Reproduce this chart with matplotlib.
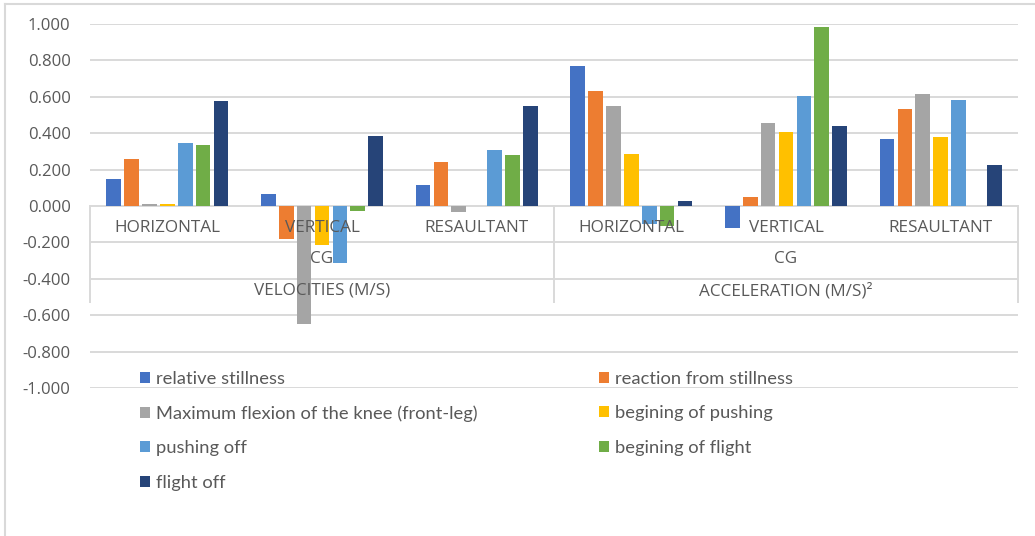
import numpy as np
import matplotlib.pyplot as plt
from matplotlib.lines import Line2D
from matplotlib.ticker import FormatStrFormatter

# category axis (three levels)
components = ['HORIZONTAL', 'VERTICAL', 'RESAULTANT', 'HORIZONTAL', 'VERTICAL', 'RESAULTANT']
body_point = 'CG'
groups = ['VELOCITIES (M/S)', 'ACCELERATION (M/S)²']

# phases of the movement
phases = ['relative stillness', 'reaction from stillness',
          'Maximum flexion of the knee (front-leg)', 'begining of pushing',
          'pushing off', 'begining of flight', 'flight off']

relative_stillness = [0.148, 0.068, 0.115, 0.767, -0.119, 0.366]
reaction_from_stillness = [0.260, -0.181, 0.242, 0.634, 0.051, 0.533]
max_knee_flexion = [0.011, -0.648, -0.035, 0.549, 0.458, 0.617]
begining_of_pushing = [0.011, -0.214, 0.0, 0.284, 0.405, 0.381]
pushing_off = [0.346, -0.311, 0.308, -0.099, 0.603, 0.584]
begining_of_flight = [0.333, -0.029, 0.280, -0.108, 0.985, 0.0]
flight_off = [0.577, 0.386, 0.549, 0.027, 0.438, 0.227]

series = [relative_stillness, reaction_from_stillness, max_knee_flexion,
          begining_of_pushing, pushing_off, begining_of_flight, flight_off]
colors = ['#4472C4', '#ED7D31', '#A5A5A5', '#FFC000', '#5B9BD5', '#70AD47', '#264478']

text_color = '#595959'
grid_color = '#d9d9d9'
W, H = 1035, 536

fig = plt.figure(figsize=(W / 100, H / 100), dpi=100)
ax = fig.add_axes([90 / W, 1 - 388 / H, (1018 - 90) / W, (388 - 24) / H])

x = np.arange(len(components))
pitch = 0.1157
width = 0.095
bars = []
for i, (vals, name, c) in enumerate(zip(series, phases, colors)):
    b = ax.bar(x + (i - 3) * pitch, vals, width, color=c, label=name, zorder=2)
    bars.append(b)

ax.set_xlim(-0.5, len(components) - 0.5)
ax.set_ylim(-1, 1)
ax.set_yticks(np.round(np.linspace(-1, 1, 11), 1))
ax.yaxis.set_major_formatter(FormatStrFormatter('%.3f'))
ax.set_xticks([])
ax.yaxis.grid(True, color=grid_color, lw=1.4)
ax.set_axisbelow(True)
for s in ax.spines.values():
    s.set_visible(False)
ax.tick_params(axis='y', length=0, pad=14, labelsize=12, labelcolor=text_color)
for lab in ax.get_yticklabels():
    lab.set_family('Open Sans')

# multi-level category axis drawn inside the plot
for bx in [-0.5, 2.5, 5.5]:
    ax.plot([bx, bx], [0, -0.527], color=grid_color, lw=1.4, clip_on=False, zorder=1)
for i, comp in enumerate(components):
    ax.text(i, -0.121, comp, ha='center', va='center', fontsize=12.3,
            color=text_color, family='Open Sans', zorder=3)
for gi, g in enumerate(groups):
    cx = gi * 3 + 1
    ax.text(cx, -0.291, body_point, ha='center', va='center', fontsize=12.3,
            color=text_color, family='Open Sans', zorder=3)
    ax.text(cx, -0.467, g, ha='center', va='center', fontsize=12.3,
            color=text_color, family='Open Sans', zorder=3)

# legend filled row by row
order = [0, 2, 4, 6, 1, 3, 5]
leg = fig.legend([bars[k] for k in order], [phases[k] for k in order],
                 loc='upper left', bbox_to_anchor=(140 / W, 1 - 371 / H),
                 ncol=2, frameon=False, prop={'family': 'Lato', 'size': 13.25},
                 handlelength=0.55, handleheight=0.55, handletextpad=0.33,
                 labelspacing=1.0, columnspacing=6.6, borderpad=0, borderaxespad=0)
for t in leg.get_texts():
    t.set_color(text_color)

# chart area border
fig.add_artist(Line2D([5 / W, 5 / W], [0, 1 - 4 / H], transform=fig.transFigure,
                      color=grid_color, lw=1.5))
fig.add_artist(Line2D([5 / W, 1], [1 - 4 / H, 1 - 4 / H], transform=fig.transFigure,
                      color=grid_color, lw=1.5))

fig.savefig('out.png', dpi=100)
